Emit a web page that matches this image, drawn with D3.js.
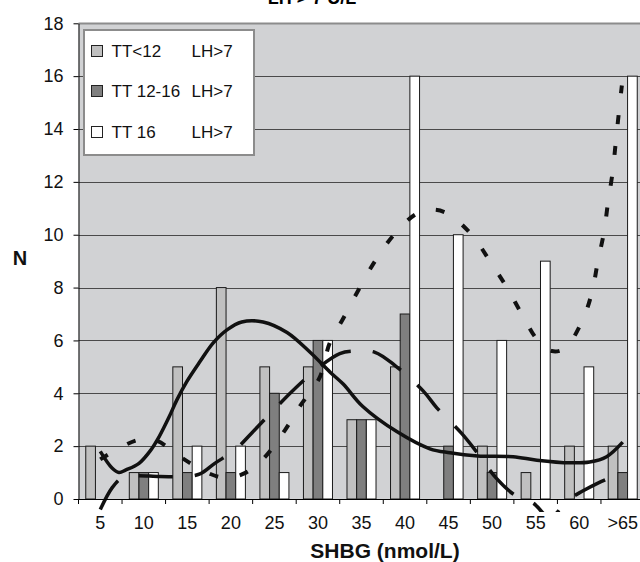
<!DOCTYPE html>
<html>
<head>
<meta charset="utf-8">
<script src="https://cdn.jsdelivr.net/npm/d3@7"></script>
<style>
  body { margin: 0; background: #fff; }
  svg { display: block; font-family: "Liberation Sans", Arial, sans-serif; }
</style>
</head>
<body>
<div id="chart"></div>
<script>
// categories (SHBG nmol/L) and counts per TT group
var cats = ["5", "10", "15", "20", "25", "30", "35", "40", "45", "50", "55", "60", ">65"];
var ttLow = [2, 1, 5, 8, 5, 5, 3, 5, 0, 2, 1, 2, 2];
var ttMid = [0, 1, 1, 1, 4, 6, 3, 7, 2, 1, 0, 0, 1];
var ttHigh = [0, 1, 2, 2, 1, 6, 3, 16, 10, 6, 9, 5, 16];
var legendNames = ["TT<12", "TT 12-16", "TT 16"];
var yTicks = [0, 2, 4, 6, 8, 10, 12, 14, 16, 18];

// trend curves, [category position, N]
var trendLow = [[0, 1.8], [0.27, 1.17], [0.43, 1.0], [0.59, 1.1], [0.89, 1.35], [1.16, 1.85], [1.35, 2.35],
  [1.58, 3.1], [1.76, 3.75], [1.99, 4.45], [2.29, 5.2], [2.59, 5.9], [2.91, 6.4], [3.25, 6.7], [3.74, 6.7],
  [4.29, 6.3], [4.82, 5.55], [5.28, 4.8], [5.58, 4.35], [6.03, 3.5], [6.81, 2.55], [7.57, 1.9], [8.03, 1.75],
  [8.67, 1.63], [9.48, 1.6], [10.03, 1.47], [10.79, 1.37], [11.24, 1.4], [11.63, 1.6], [12, 2.15]];
var trendMid = [[0, -0.4], [0.27, 0.42], [0.5, 0.8], [0.8, 0.88], [1.37, 0.85], [1.94, 0.85], [2.29, 0.95],
  [2.63, 1.35], [3.09, 1.85], [3.48, 2.5], [4.06, 3.5], [4.42, 4.1], [5.0, 4.95], [5.5, 5.5], [5.9, 5.6],
  [6.31, 5.55], [6.77, 5.05], [7.41, 4.1], [7.73, 3.45], [8.3, 2.48], [8.64, 1.79], [9.1, 0.78], [9.52, 0.15],
  [9.94, -0.15], [10.33, -0.7], [10.73, -0.05], [11.08, 0.3], [11.43, 0.6], [11.98, 1.0]];
var trendHigh = [[0, 1.5], [0.52, 2.0], [0.91, 2.25], [1.3, 2.2], [1.88, 1.55], [2.45, 1.0], [2.86, 0.8],
  [3.28, 0.95], [3.73, 1.5], [4.24, 2.6], [4.58, 3.5], [5.04, 4.6], [5.27, 5.9], [5.57, 6.8], [5.96, 8.0],
  [6.31, 9.0], [6.77, 10.05], [7.27, 10.8], [7.62, 10.95], [7.98, 10.8], [8.53, 10.0], [8.95, 9.0], [9.34, 8.0],
  [9.68, 7.0], [10.05, 6.0], [10.37, 5.6], [10.67, 5.7], [11.06, 6.7], [11.29, 7.8], [11.43, 9.0], [11.57, 10.1],
  [11.66, 11.2], [11.77, 12.4], [11.84, 13.5], [11.91, 14.6], [11.98, 15.65]];

var width = 640, height = 562;
var plotLeft = 78.5, plotRight = 644.5, plotTop = 23.3, plotBottom = 499;

var svg = d3.select('#chart').append('svg').attr('width', width).attr('height', height);

var x = d3.scaleBand().domain(cats).range([plotLeft, plotRight]).padding(0);
var sub = d3.scaleBand().domain([0, 1, 2]).range([0, x.bandwidth()]).paddingInner(0).paddingOuter(0.75);
var y = d3.scaleLinear().domain([0, 18]).range([plotBottom, plotTop]);
var xi = d3.scaleLinear().domain([0, cats.length - 1])
  .range([x(cats[0]) + x.bandwidth() / 2, x(cats[cats.length - 1]) + x.bandwidth() / 2]);

// plot background
svg.append('rect').attr('x', plotLeft).attr('y', y(18)).attr('width', plotRight - plotLeft)
  .attr('height', y(0) - y(18)).attr('fill', '#d1d2d4');

// gridlines
svg.append('g').selectAll('line').data(yTicks.filter(function (d) { return d > 0; })).join('line')
  .attr('x1', plotLeft).attr('x2', plotRight)
  .attr('y1', function (d) { return Math.round(y(d)) + 0.5; })
  .attr('y2', function (d) { return Math.round(y(d)) + 0.5; })
  .attr('stroke', function (d) { return d === 18 ? '#8c8c8c' : '#4a4a4a'; })
  .attr('stroke-width', function (d) { return d === 18 ? 2 : 1; });

// bars
var series = [ttLow, ttMid, ttHigh];
var fills = ['#c0c0c0', '#7f7f7f', '#ffffff'];
series.forEach(function (vals, s) {
  svg.append('g').selectAll('rect').data(vals).join('rect')
    .attr('x', function (d, i) { return x(cats[i]) + sub(s); })
    .attr('y', function (d) { return y(d); })
    .attr('width', sub.bandwidth())
    .attr('height', function (d) { return y(0) - y(d); })
    .attr('fill', fills[s]).attr('stroke', '#1a1a1a').attr('stroke-width', 1)
    .style('display', function (d) { return d > 0 ? null : 'none'; });
});

// trend curves
svg.append('clipPath').attr('id', 'clip').append('rect')
  .attr('x', plotLeft).attr('y', plotTop).attr('width', plotRight - plotLeft).attr('height', 512 - plotTop);
var line = d3.line().x(function (d) { return xi(d[0]); }).y(function (d) { return y(d[1]); })
  .curve(d3.curveCatmullRom.alpha(0.5));
var curves = svg.append('g').attr('clip-path', 'url(#clip)').attr('fill', 'none').attr('stroke', '#111');
curves.append('path').datum(trendLow).attr('d', line).attr('stroke-width', 3.5);
curves.append('path').datum(trendMid).attr('d', line).attr('stroke-width', 3.5).attr('stroke-dasharray', '34,22');
curves.append('path').datum(trendHigh).attr('d', line).attr('stroke-width', 4).attr('stroke-dasharray', '9,22');

// y axis
var yAxis = svg.append('g').attr('transform', 'translate(' + plotLeft + ',0)')
  .call(d3.axisLeft(y).tickValues(yTicks).tickSize(5).tickPadding(10).tickSizeOuter(0));
yAxis.select('.domain').attr('stroke', '#000');
yAxis.selectAll('text').attr('font-size', 18).attr('fill', '#111').attr('font-family', null);

// x axis
var xAxis = svg.append('g').attr('transform', 'translate(0,' + plotBottom + ')')
  .call(d3.axisBottom(x).tickSize(0).tickPadding(17.5).tickSizeOuter(0));
xAxis.select('.domain').attr('stroke', '#000');
xAxis.selectAll('text').attr('font-size', 18).attr('fill', '#111').attr('font-family', null);
xAxis.selectAll('line.sep').data(d3.range(cats.length + 1)).join('line').attr('class', 'sep')
  .attr('x1', function (i) { return plotLeft + i * x.step(); })
  .attr('x2', function (i) { return plotLeft + i * x.step(); })
  .attr('y1', 0).attr('y2', 5).attr('stroke', '#000');

// titles
svg.append('text').attr('x', 312).attr('y', 4).attr('text-anchor', 'middle')
  .attr('font-size', 18).attr('font-weight', 'bold').text('LH > 7 U/L');
svg.append('text').attr('x', 385).attr('y', 558).attr('text-anchor', 'middle')
  .attr('font-size', 21).attr('font-weight', 'bold').attr('fill', '#111').text('SHBG (nmol/L)');
svg.append('text').attr('x', 20).attr('y', 265).attr('text-anchor', 'middle')
  .attr('font-size', 20).attr('font-weight', 'bold').attr('fill', '#111').text('N');

// legend
var legend = svg.append('g');
legend.append('rect').attr('x', 84).attr('y', 30).attr('width', 170).attr('height', 125)
  .attr('fill', '#fff').attr('stroke', '#8c8c8c').attr('stroke-width', 2);
var items = legend.selectAll('g.item').data(legendNames).join('g').attr('class', 'item')
  .attr('transform', function (d, i) { return 'translate(0,' + [51, 91, 132][i] + ')'; });
items.append('rect').attr('x', 91.5).attr('y', -5.5).attr('width', 11).attr('height', 11)
  .attr('fill', function (d, i) { return fills[i]; }).attr('stroke', '#222');
items.append('text').attr('x', 111.5).attr('y', 6).attr('font-size', 17).attr('fill', '#111')
  .text(function (d) { return d; });
items.append('text').attr('x', 191.5).attr('y', 6).attr('font-size', 17).attr('fill', '#111')
  .text('LH>7');
</script>
</body>
</html>
